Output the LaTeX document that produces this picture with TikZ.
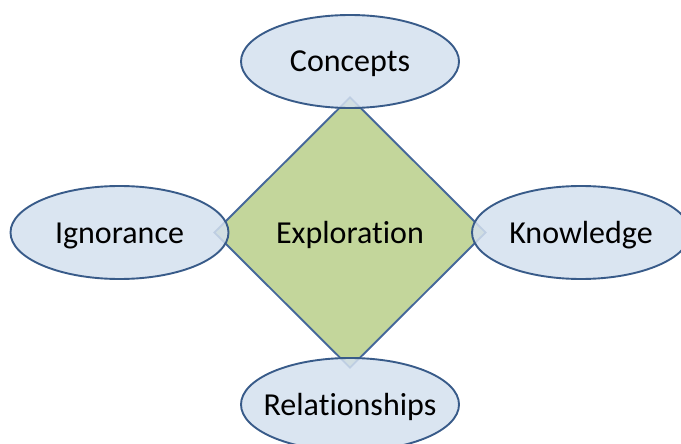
\documentclass[tikz,border=0pt]{standalone}
\usepackage{fontspec}
\setmainfont{Carlito}[Ligatures=NoCommon]
\usetikzlibrary{shapes.geometric}

\begin{document}
\begin{tikzpicture}[x=1pt,y=-1pt]
\tikzset{every node/.style={font=\fontsize{32}{36}\selectfont, text height=24pt, text depth=3pt},
  idea/.style={ellipse, draw=ovalline, fill=ovalfill, fill opacity=0.85, text opacity=1,
    line width=1.9pt, minimum width=218pt, minimum height=93pt, inner ysep=0pt,
    inner xsep=-16pt, text width=180pt, align=center},
  core/.style={diamond, draw=coreline, fill=corefill, line width=1.9pt, aspect=1,
    minimum width=272pt, minimum height=271pt, inner sep=0pt}}
\definecolor{ovalfill}{HTML}{D4E0EF}
\definecolor{ovalline}{HTML}{385B89}
\definecolor{corefill}{HTML}{C3D69B}
\definecolor{coreline}{HTML}{45689A}
\useasboundingbox (0,0) rectangle (681,444);
% centre
\node[core] (explore) at (350,232.5) {Exploration};
% the four ideas round it
\node[idea] (concepts) at (350,61.5) {Concepts};
\node[idea] (ignorance) at (119.5,232.5) {Ignorance};
\node[idea] (knowledge) at (581,232.5) {Knowledge};
\node[idea] (relations) at (350,404.5) {Relationships};
\end{tikzpicture}
\end{document}
